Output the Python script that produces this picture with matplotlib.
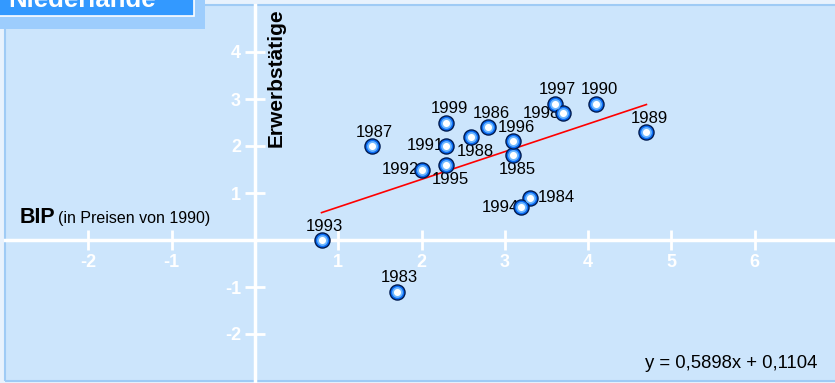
import numpy as np
import matplotlib.pyplot as plt
from matplotlib.patches import Rectangle

plt.rcParams['font.family'] = ['Liberation Sans', 'DejaVu Sans']
plt.rcParams['axes.unicode_minus'] = False

# Daten: BIP-Wachstum (x) und Erwerbstätigen-Wachstum (y), Niederlande
years = ['1983', '1984', '1985', '1986', '1987', '1988', '1989', '1990', '1991',
         '1992', '1993', '1994', '1995', '1996', '1997', '1998', '1999']
bip = [1.7, 3.3, 3.1, 2.8, 1.4, 2.6, 4.7, 4.1, 2.3, 2.0, 0.8, 3.2, 2.3, 3.1, 3.6, 3.7, 2.3]
erwerb = [-1.1, 0.9, 1.8, 2.4, 2.0, 2.2, 2.3, 2.9, 2.0, 1.5, 0.0, 0.7, 1.6, 2.1, 2.9, 2.7, 2.5]
slope, intercept = 0.5898, 0.1104
x_ticks = [-2, -1, 1, 2, 3, 4, 5, 6]
y_ticks = [-2, -1, 1, 2, 3, 4]

# wo das Jahr neben dem Punkt steht
placement = {'1983': 'above', '1984': 'right', '1985': 'below', '1986': 'above',
             '1987': 'above', '1988': 'below', '1989': 'above', '1990': 'above',
             '1991': 'left', '1992': 'left', '1993': 'above', '1994': 'left',
             '1995': 'below', '1996': 'above', '1997': 'above', '1998': 'left',
             '1999': 'above'}

W, H = 835, 383
fig = plt.figure(figsize=(W / 100, H / 100), dpi=100)
fig.patch.set_facecolor('#e8f2fd')

bg = '#cce5fc'
ax = fig.add_axes([5 / W, 2 / H, 833 / W, 376 / H])
ax.set_facecolor(bg)
ax.set_xlim(-3, 7)
ax.set_ylim(-3, 5)

for s in ['top', 'right']:
    ax.spines[s].set_visible(False)
for s in ['left', 'bottom']:
    ax.spines[s].set_position(('data', 0))
    ax.spines[s].set_color('white')
    ax.spines[s].set_linewidth(2.5)
ax.add_patch(Rectangle((0, 0), 1, 1, transform=ax.transAxes, fill=False,
                       edgecolor='#9fcbf5', lw=1.5, clip_on=False, zorder=0))

ax.set_xticks(x_ticks)
ax.set_yticks(y_ticks)
ax.tick_params(direction='inout', length=14, width=2, color='white',
               labelcolor='white', labelsize=13, pad=3)
for lab in ax.get_xticklabels() + ax.get_yticklabels():
    lab.set_fontweight('bold')

# Regressionsgerade
xl = np.array([min(bip), max(bip)])
ax.plot(xl, slope * xl + intercept, color='red', lw=1.2, zorder=3)

# Punkte (Kugeln)
ax.scatter(bip, erwerb, s=118, color='#0a6cf5', edgecolor='#001a50', linewidth=1.0, zorder=5)
ax.scatter(bip, erwerb, s=60, color='#6fb8ff', linewidth=0, zorder=6)
ax.scatter(bip, erwerb, s=26, color='white', linewidth=0, zorder=7)

offs = {'above': ((2, 10), 'center', 'center'),
        'below': ((3, -10.5), 'center', 'center'),
        'left': ((-2, 0), 'right', 'center'),
        'right': ((6, 0), 'left', 'center')}
for yr, xv, yv in zip(years, bip, erwerb):
    (dx, dy), ha, va = offs[placement[yr]]
    ax.annotate(yr, (xv, yv), xytext=(dx, dy), textcoords='offset points',
                ha=ha, va=va, fontsize=12, color='black', zorder=4)

ax.text(0.14, 1.98, 'Erwerbstätige', rotation=90, ha='left', va='bottom',
        fontsize=15, fontweight='bold', color='black')
ax.text(-2.82, 0.36, 'BIP', fontsize=15.5, fontweight='bold', va='baseline')
ax.text(-2.36, 0.36, '(in Preisen von 1990)', fontsize=11.5, va='baseline')
ax.text(6.75, -2.72, 'y = 0,5898x + 0,1104', fontsize=13.3, ha='right', va='baseline')

# Titelkasten oben links
fig.patches.append(Rectangle((0, 1 - 29 / H), 205 / W, 29 / H, transform=fig.transFigure,
                             facecolor='#9dcdfd', edgecolor='none', zorder=10))
fig.patches.append(Rectangle((-2 / W, 1 - 16 / H), 196 / W, 18 / H, transform=fig.transFigure,
                             facecolor='#3399ff', edgecolor='white', lw=1.2, zorder=11))
fig.text(8 / W, 1 - 7 / H, 'Niederlande', color='white', fontsize=18.5,
         fontweight='bold', va='baseline', ha='left', zorder=12)

fig.savefig('out.png', dpi=100, facecolor=fig.get_facecolor())
